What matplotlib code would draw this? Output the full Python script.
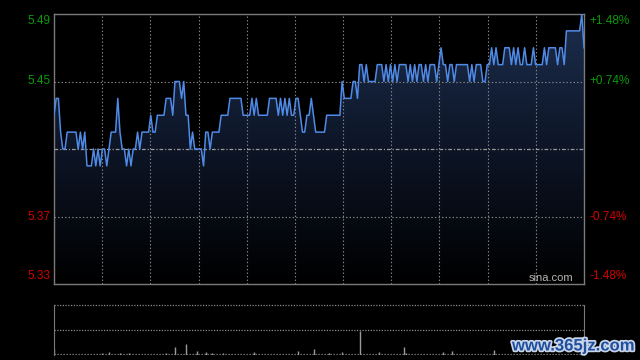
import numpy as np
import matplotlib
matplotlib.use("Agg")
from matplotlib import pyplot as plt
from matplotlib.colors import LinearSegmentedColormap
from matplotlib.patches import PathPatch
import matplotlib.patheffects as pe

plt.rcParams['font.family'] = ['Liberation Sans', 'DejaVu Sans']

# intraday price, in cents above 5.00, one value per minute (242 points)
price_cents = [
    43, 44, 44, 42, 41, 41, 42, 42, 42, 42, 42, 41, 42, 41, 42, 40, 40, 40, 41, 40,
    41, 40, 41, 41, 40, 41, 42, 42, 42, 44, 42, 41, 41, 40, 41, 40, 41, 41, 42, 41,
    42, 42, 42, 42, 43, 42, 42, 43, 43, 43, 43, 44, 44, 44, 43, 45, 45, 45, 44, 45,
    43, 43, 41, 42, 41, 41, 41, 41, 40, 42, 42, 41, 42, 42, 42, 42, 43, 43, 43, 43,
    44, 44, 44, 44, 44, 44, 43, 43, 43, 43, 44, 43, 44, 43, 43, 43, 43, 43, 44, 44,
    44, 44, 43, 44, 43, 44, 43, 44, 43, 43, 44, 44, 43, 42, 42, 43, 43, 44, 43, 42,
    42, 42, 42, 42, 43, 43, 43, 43, 43, 43, 43, 45, 44, 44, 44, 44, 45, 45, 44, 46,
    46, 45, 46, 45, 45, 45, 45, 46, 46, 46, 45, 46, 45, 46, 45, 46, 45, 46, 46, 46,
    46, 45, 46, 45, 46, 45, 46, 46, 45, 46, 45, 46, 46, 46, 45, 46, 47, 46, 46, 45,
    46, 46, 45, 46, 46, 46, 46, 46, 46, 45, 46, 45, 46, 46, 46, 45, 45, 46, 46, 47,
    46, 47, 46, 46, 46, 47, 47, 47, 46, 47, 46, 47, 46, 46, 47, 46, 46, 46, 47, 46,
    46, 46, 46, 47, 46, 47, 47, 47, 47, 46, 47, 47, 46, 48, 48, 48, 48, 48, 48, 48,
    49, 47,
]
prev_close = 5.41
left_ticks = [5.49, 5.45, 5.37, 5.33]
right_labels = ['+1.48%', '+0.74%', '-0.74%', '-1.48%']

# visible volume spikes (minute, volume)
vol_minutes = [0, 22, 25, 30, 34, 51, 55, 60, 65, 69, 72, 77, 91, 111, 118,
               125, 131, 139, 148, 159, 160, 177, 181, 200]
vol_values = [1200, 400, 600, 400, 400, 400, 1600, 2200, 800, 600, 400, 400, 600, 800, 1200,
              400, 600, 4800, 600, 1600, 400, 600, 800, 1000]

price = 5 + np.array(price_cents) / 100.0
x = np.arange(len(price))
xmax = len(price) - 1
ylo, yhi = 5.33, 5.49

fig = plt.figure(figsize=(6.4, 3.6), dpi=100, facecolor='black')
ax = fig.add_axes((54 / 640, 76 / 360, 530 / 640, 270 / 360))
ax.set_facecolor('black')
ax.set_xlim(0, xmax)
ax.set_ylim(ylo, yhi)
ax.set_xticks([])
ax.set_yticks([])
for s in ax.spines.values():
    s.set_color('#7a7a7a')
    s.set_linewidth(1)

# grid
for k in range(1, 11):
    ax.axvline(xmax * k / 11, color='#8a8a8a', lw=0.8, ls=(0, (1.2, 2)), zorder=3)
for yv in (5.45, 5.37):
    ax.axhline(yv, color='#8a8a8a', lw=0.8, ls=(0, (1.2, 2)), zorder=3)
ax.axhline(prev_close, color='#9a9a9a', lw=0.9, ls=(0, (3, 1.5, 1, 1.5)), zorder=3)

# gradient fill under the line
poly = ax.fill_between(x, price, ylo, facecolor='none', edgecolor='none')
cmap = LinearSegmentedColormap.from_list('g', ['#000000', '#0d1526', '#1c2e4e'])
grad = np.linspace(1, 0, 256).reshape(-1, 1)
im = ax.imshow(grad, extent=[0, xmax, ylo, yhi], aspect='auto', cmap=cmap,
               origin='upper', zorder=1, interpolation='bilinear')
clip = PathPatch(poly.get_paths()[0], transform=ax.transData, facecolor='none', edgecolor='none')
ax.add_patch(clip)
im.set_clip_path(clip)
ax.plot(x, price, color='#4f8ae6', lw=1.1, zorder=4)

# axis labels
lt = ax.get_yaxis_transform()
for i, (v, lab) in enumerate(zip(left_ticks, right_labels)):
    col = '#0a9a0a' if v > prev_close else '#d40000'
    va = 'top' if i == 0 else ('bottom' if i == len(left_ticks) - 1 else 'center')
    yy = v - 0.0005 if i == 0 else (v + 0.0012 if va == 'bottom' else v)
    ax.text(-0.006, yy, f'{v:.2f}', transform=lt, ha='right', va=va, color=col, fontsize=8.5)
    ax.text(1.011, yy, lab, transform=lt, ha='left', va=va, color=col, fontsize=8.5)

ax.text(0.979, 0.004, 'sina.com', transform=ax.transAxes, ha='right', va='bottom',
        color='#b4b4b4', fontsize=8)

# volume panel
vax = fig.add_axes((54 / 640, 5 / 360, 530 / 640, 50 / 360))
vax.set_facecolor('black')
vax.set_xlim(0, xmax)
vax.set_ylim(0, 10000)
vax.set_xticks([])
vax.set_yticks([])
for side in ('top', 'bottom'):
    vax.spines[side].set_visible(False)
for side in ('left', 'right'):
    vax.spines[side].set_color('#7a7a7a')
for yv in (10000, 5000):
    vax.axhline(yv, color='#8a8a8a', lw=0.9, ls=(0, (1, 1.2)), clip_on=False)
vax.axhline(150, color='#8a8a8a', lw=0.9, ls=(0, (1, 1.4)))
vax.vlines(vol_minutes, 0, vol_values, color='#9a9a9a', lw=1)

fig.text(634 / 640, 14 / 360, 'www.365jz.com', ha='right', va='center',
         fontsize=12, fontweight='bold', color='#1f4f9e',
         path_effects=[pe.withStroke(linewidth=2.5, foreground='#c8d4e8')])

fig.savefig('out.png', dpi=100, facecolor='black')
